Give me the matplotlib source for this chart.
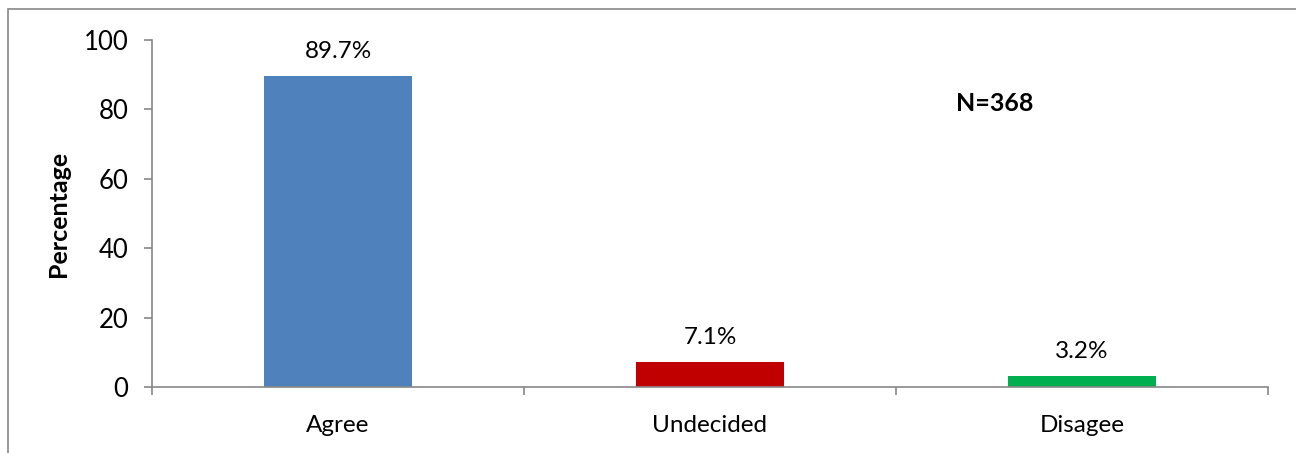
import matplotlib.pyplot as plt
from matplotlib.patches import Rectangle

categories = ['Agree', 'Undecided', 'Disagee']
percentages = [89.7, 7.1, 3.2]
bar_labels = ['89.7%', '7.1%', '3.2%']
bar_colors = ['#4F81BD', '#C00000', '#00B050']
y_ticks = [0, 20, 40, 60, 80, 100]

plt.rcParams['font.family'] = ['Lato', 'DejaVu Sans']

fig = plt.figure(figsize=(12.96, 4.53), dpi=100)
ax = fig.add_axes([152 / 1296, 1 - 387 / 453, 1116 / 1296, 347 / 453])

x = range(len(categories))
bars = ax.bar(x, percentages, width=0.4, color=bar_colors)

for b, lab in zip(bars, bar_labels):
    ax.annotate(lab, (b.get_x() + b.get_width() / 2, b.get_height()),
                xytext=(0, 10), textcoords='offset points',
                ha='center', va='bottom', fontsize=17.5)

ax.set_xlim(-0.5, len(categories) - 0.5)
ax.set_ylim(0, 100)
ax.set_yticks(y_ticks)
ax.set_xticks(list(x))
ax.set_xticklabels(categories)
ax.set_xticks([i + 0.5 for i in range(-1, len(categories))], minor=True)
ax.tick_params(axis='x', which='major', length=0, pad=20, labelsize=17.5)
ax.tick_params(axis='x', which='minor', length=6, color='#888888', width=1.2)
ax.tick_params(axis='y', length=6, color='#888888', width=1.2, labelsize=18.5, pad=11)

for side in ['top', 'right']:
    ax.spines[side].set_visible(False)
for side in ['left', 'bottom']:
    ax.spines[side].set_color('#888888')
    ax.spines[side].set_linewidth(1.2)

ax.set_ylabel('Percentage', fontsize=18, fontweight='bold', labelpad=10)
ax.text(0.755, 0.818, 'N=368', transform=ax.transAxes, ha='center', va='center',
        fontsize=18, fontweight='bold')

# outer chart border (cropped at right and bottom)
fig.patches.append(Rectangle((8 / 1296, -0.1), 1.2, 1 - 9 / 453 + 0.1,
                             transform=fig.transFigure, fill=False,
                             edgecolor='#888888', linewidth=1.2))

fig.savefig('out.png', dpi=100)
